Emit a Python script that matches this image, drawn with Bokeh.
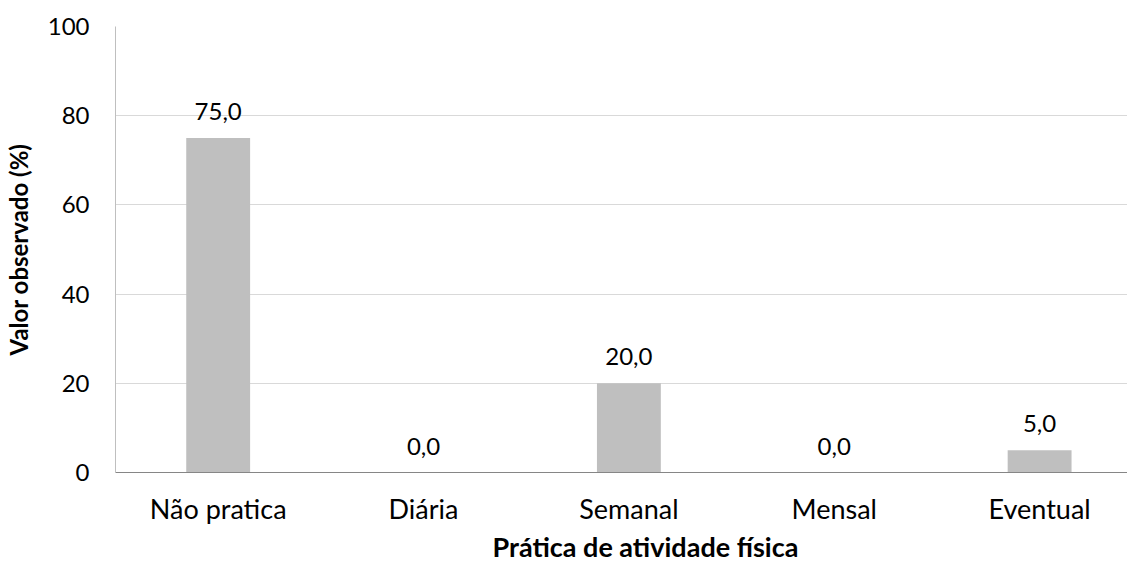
from bokeh.plotting import figure
from bokeh.models import Range1d, FixedTicker, ColumnDataSource, LabelSet, Title
from bokeh.core.properties import value
from bokeh.embed import file_html
from bokeh.resources import INLINE

categories = ["Não pratica", "Diária", "Semanal", "Mensal", "Eventual"]
values = [75.0, 0.0, 20.0, 0.0, 5.0]
y_ticks = [0, 20, 40, 60, 80, 100]
x_title = "Prática de atividade física"
y_title = "Valor observado (%)"

FONT = "Lato"
positions = [i + 0.5 for i in range(len(categories))]
labels = [f"{v:.1f}".replace(".", ",") for v in values]

src = ColumnDataSource(dict(x=positions, top=values, label=labels))

p = figure(width=1127, height=562, output_backend="svg", toolbar_location=None,
           x_range=Range1d(0, 4.928), y_range=Range1d(0, 100),
           min_border_left=113, min_border_top=26, min_border_bottom=90, min_border_right=0)
p.outline_line_color = None
p.background_fill_color = "white"
p.border_fill_color = "white"

p.vbar(x="x", top="top", width=0.311, source=src, fill_color="#BFBFBF", line_color=None)

lab = LabelSet(x="x", y="top", text="label", source=src, text_align="center",
               text_baseline="alphabetic", y_offset=18, text_font=value(FONT),
               text_font_size="24px", text_color="#000000")
p.add_layout(lab)

# x-axis title, placed in the bottom panel (offset from the frame's left edge)
p.add_layout(Title(text=x_title, align="left", offset=377, standoff=0,
                   text_font=FONT, text_font_size="27px", text_font_style="bold",
                   text_color="#000000"), "below")

p.xaxis.ticker = FixedTicker(ticks=positions)
p.xaxis.major_label_overrides = {pos: c for pos, c in zip(positions, categories)}
p.yaxis.ticker = FixedTicker(ticks=y_ticks)

for ax in (p.xaxis, p.yaxis):
    ax.major_tick_line_color = None
    ax.minor_tick_line_color = None
    ax.axis_line_color = "#BFBFBF"
    ax.axis_line_width = 1
    ax.major_label_text_font = FONT
    ax.major_label_text_color = "#000000"
    ax.axis_label_text_font = FONT
    ax.axis_label_text_font_style = "bold"
    ax.axis_label_text_color = "#000000"

p.xaxis.major_label_text_font_size = "27px"
p.yaxis.major_label_text_font_size = "24px"
p.yaxis.axis_label_text_font_size = "24px"
p.xaxis.axis_line_color = "#868686"
p.xaxis.major_label_standoff = 13
p.yaxis.major_label_standoff = 20
p.yaxis.axis_label = y_title
p.yaxis.axis_label_standoff = 12

p.xgrid.grid_line_color = None
p.ygrid.grid_line_color = "#D9D9D9"
p.ygrid.grid_line_width = 1

open("out.html", "w").write(file_html(p, INLINE))
